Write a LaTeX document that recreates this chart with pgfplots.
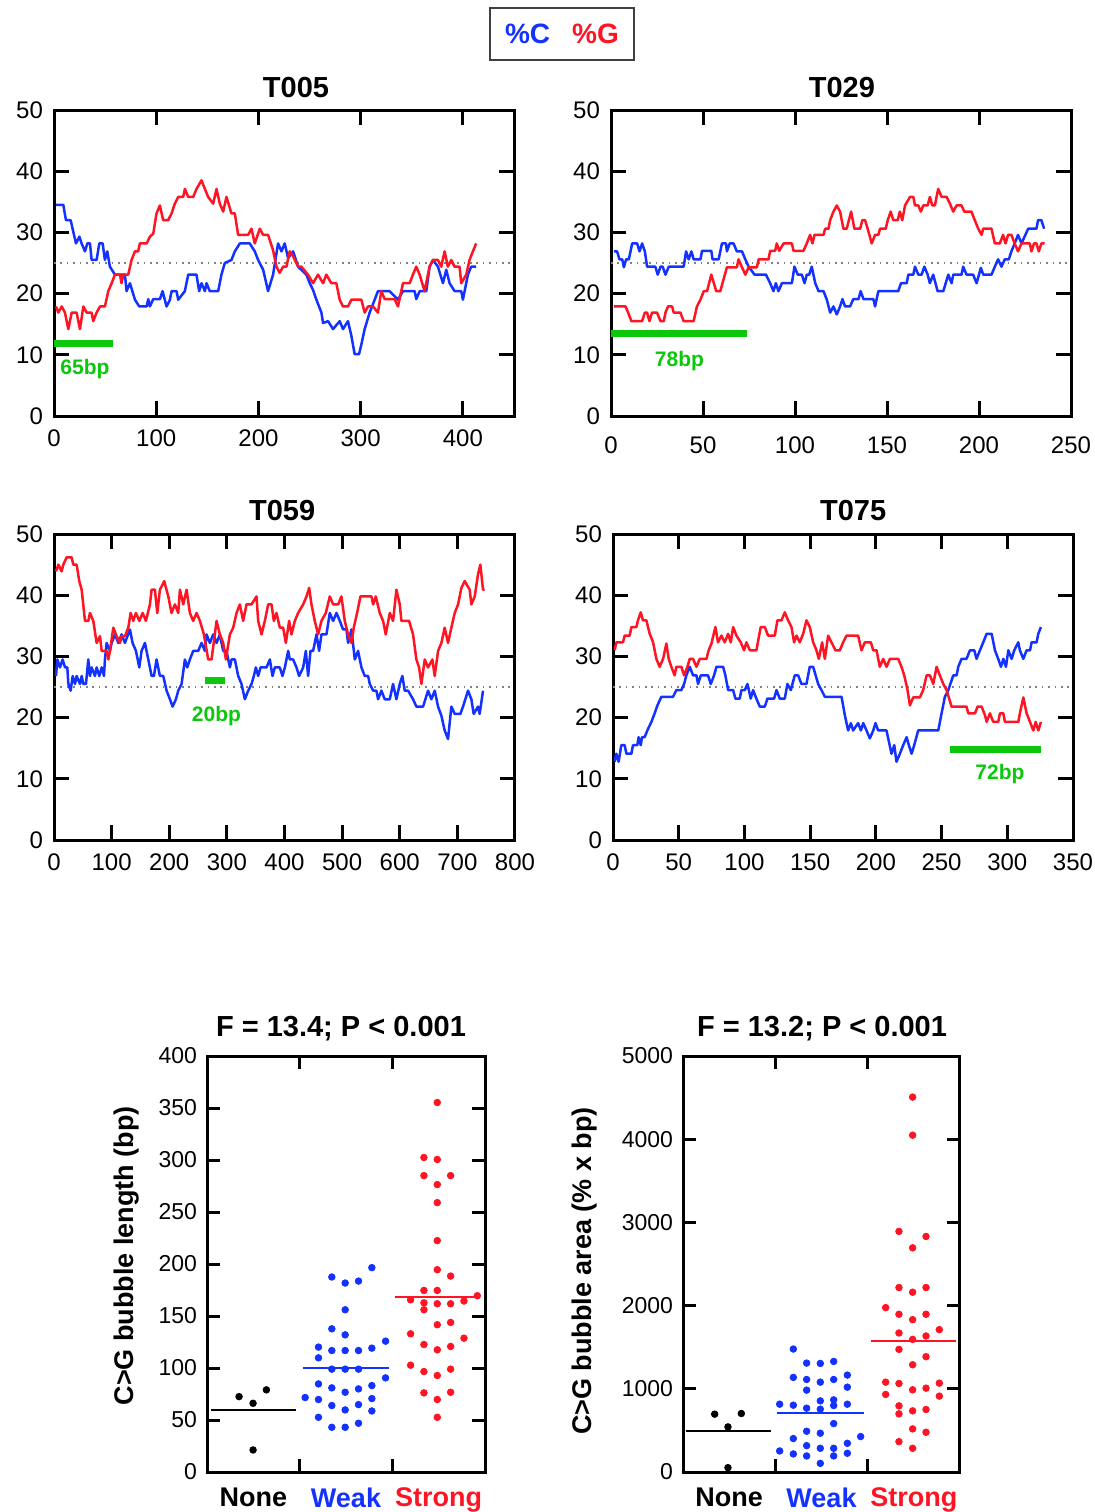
\documentclass[border=0pt]{standalone}
\usepackage{fontspec}
\setmainfont{Liberation Sans}
\usepackage{pgfplots}
\pgfplotsset{compat=1.18}
\definecolor{cblue}{RGB}{20,50,255}
\definecolor{cred}{RGB}{255,20,35}
\definecolor{cgreen}{RGB}{12,200,12}
\tikzset{glab/.style={text=cgreen, font=\bfseries\fontsize{10.5}{12}\selectfont}}
\pgfplotsset{
  every axis/.append style={
    scale only axis,
    axis line style={line width=1.5pt, line cap=rect},
    tick style={line width=1.5pt, black},
    tick align=inside,
    /pgf/number format/assume math mode=true,
    /pgf/number format/1000 sep={},
    scaled ticks=false,
  },
  top/.style={
    width=230pt, height=153pt,
    ymin=0, ymax=50, ytick={0,10,20,30,40,50}, xmin=0,
    major tick length=7.5pt,
    tick label style={font=\fontsize{12}{14}\selectfont},
    yticklabel style={xshift=-2pt},
    xticklabel style={yshift=-3.5pt},
    title style={font=\bfseries\fontsize{14.5}{17}\selectfont, anchor=base, yshift=0.5pt},
  },
  cline/.style={cblue, line width=1.25pt, line join=round, no marks},
  gline/.style={cred, line width=1.25pt, line join=round, no marks},
  dotl/.style={gray, line width=0.7pt, dash pattern=on 0.8pt off 2.4pt, no marks},
  gbar/.style={cgreen, line width=3.5pt, no marks},
  bot/.style={
    height=208pt, xmin=0, xmax=3, ymin=0,
    xtick={1,2}, xticklabels={},
    major tick length=6.5pt,
    extra x ticks={0.5,1.5,2.5},
    extra x tick labels={\textcolor{black}{None},\textcolor{cblue}{Weak},\textcolor{cred}{Strong}},
    extra x tick style={major tick length=0pt, tick label style={font=\bfseries\fontsize{13.5}{16}\selectfont, yshift=-4.2pt}},
    yticklabel style={font=\fontsize{11.5}{13}\selectfont, xshift=-1.5pt},
    title style={font=\bfseries\fontsize{14.5}{17}\selectfont, anchor=base, yshift=4pt},
    ylabel style={font=\bfseries\fontsize{13.5}{16}\selectfont, anchor=center},
  },
  dots/.style={only marks, mark=*, mark size=1.65pt},
  mline/.style={line width=1pt, no marks},
}
\begin{document}
\begin{tikzpicture}
\useasboundingbox (0,0) rectangle (547pt,-756pt);
\node[draw=black!75, line width=0.8pt, minimum width=72pt, minimum height=26pt, inner sep=0pt, font=\bfseries\fontsize{14}{16}\selectfont] at (281pt,-17pt) {\textcolor{cblue}{\%C}\hspace{11pt}\textcolor{cred}{\%G}};

% ---------------- T005
\begin{axis}[top, at={(27pt,-55pt)}, anchor=north west, xmax=450, xtick={0,100,200,300,400},
  title={T005}, title style={at={(axis description cs:0.526,1)}}]
\addplot[dotl] coordinates {(0,25) (450,25)};
\addplot[cline] coordinates {(2.0,34.5)(9.1,34.5)(11.7,32.0)(16.3,32.0)(18.2,30.6)(21.5,28.2)(24.8,29.3)(27.0,28.2)(30.3,26.9)(32.6,28.2)(35.2,28.2)(36.8,25.5)(41.7,25.5)(44.3,28.2)(47.6,28.2)(49.8,25.5)(52.1,26.9)(54.7,24.4)(59.6,23.1)(69.4,23.1)(71.0,20.4)(74.3,21.7)(79.2,19.0)(83.4,17.9)(90.6,17.9)(92.2,19.1)(93.8,17.9)(97.1,19.1)(103.6,19.1)(106.2,20.4)(110.1,17.9)(113.4,19.0)(115.0,20.4)(119.9,20.4)(121.5,19.0)(128.0,20.4)(131.3,23.1)(139.4,23.1)(142.0,20.4)(144.3,21.7)(147.6,20.4)(149.2,21.7)(152.4,20.4)(160.6,20.4)(163.8,23.1)(167.1,25.0)(173.6,25.5)(176.9,26.9)(181.8,28.2)(191.5,28.2)(196.4,26.9)(199.7,25.5)(204.6,23.9)(209.4,20.4)(214.3,23.1)(219.2,28.2)(222.5,26.9)(225.7,28.2)(229.0,25.8)(233.9,26.9)(238.8,24.4)(246.9,23.1)(250.2,21.7)(253.4,20.6)(256.7,19.0)(261.6,16.9)(263.2,15.2)(268.1,15.5)(273.0,14.2)(279.5,15.5)(282.7,14.2)(287.6,15.5)(290.9,13.1)(294.1,10.1)(298.4,10.1)(300.7,11.7)(303.9,14.2)(308.8,16.9)(313.7,19.0)(316.9,20.4)(321.8,20.4)(328.3,20.4)(336.5,19.0)(341.4,20.4)(352.8,20.4)(354.4,19.1)(357.7,20.4)(364.2,20.4)(367.4,24.4)(370.7,25.5)(375.6,24.4)(380.5,21.7)(383.7,23.9)(387.0,21.7)(391.9,20.4)(398.4,20.4)(400.0,19.0)(404.9,23.1)(408.1,24.4)(413.0,24.4)};
\addplot[gline] coordinates {(2.0,17.9)(4.2,16.9)(7.5,17.9)(10.7,16.9)(14.0,14.2)(17.3,16.9)(22.1,16.9)(25.4,14.2)(28.7,17.9)(31.9,16.9)(36.8,16.9)(38.4,15.5)(41.7,16.9)(45.0,17.9)(49.8,17.9)(53.1,20.4)(56.4,21.7)(59.6,23.1)(64.5,23.1)(66.1,21.7)(67.8,23.1)(72.6,23.1)(75.9,25.5)(79.2,26.9)(82.4,26.9)(84.0,28.2)(90.6,28.2)(93.8,29.3)(97.1,29.8)(100.3,33.1)(103.6,34.4)(106.8,32.0)(111.7,32.0)(115.0,33.1)(118.2,34.7)(121.5,35.8)(126.4,35.8)(128.0,37.1)(131.3,35.8)(136.2,35.8)(139.4,37.1)(144.3,38.5)(147.6,37.1)(150.8,35.8)(155.7,34.7)(159.0,37.1)(162.2,34.7)(165.5,33.4)(168.7,35.8)(173.6,33.1)(176.9,33.1)(180.1,29.6)(183.4,29.6)(189.9,29.6)(193.2,30.6)(196.4,28.2)(201.3,30.6)(204.6,29.6)(209.4,29.6)(214.3,27.1)(217.6,24.4)(220.8,23.4)(224.1,24.4)(227.4,24.4)(230.6,26.9)(233.9,26.1)(238.8,24.4)(242.0,24.4)(248.5,23.1)(253.4,21.7)(258.3,23.1)(263.2,21.7)(266.4,23.1)(271.3,21.7)(276.2,21.7)(279.5,19.0)(282.7,17.9)(287.6,17.9)(290.9,19.0)(300.7,19.0)(303.9,16.9)(307.2,17.9)(312.1,17.9)(316.9,16.9)(320.2,20.4)(323.5,19.1)(333.2,19.1)(336.5,17.9)(341.4,21.7)(347.9,21.7)(351.1,23.1)(354.4,24.4)(357.7,23.1)(362.5,20.4)(367.4,24.4)(370.7,25.5)(375.6,25.5)(378.8,24.4)(382.1,26.9)(385.3,24.4)(388.6,25.5)(391.9,24.4)(396.7,24.4)(398.4,21.7)(403.3,23.1)(406.5,25.5)(409.8,26.9)(413.0,28.2)};
\addplot[gbar] coordinates {(0,11.8) (58,11.8)};
\node[glab] at (axis cs:30.3,7.6) {65bp};
\end{axis}

% ---------------- T029
\begin{axis}[top, at={(305.5pt,-55pt)}, anchor=north west, xmax=250, xtick={0,50,100,150,200,250},
  xticklabel style={yshift=-3.5pt},
  title={T029}, title style={at={(axis description cs:0.502,1)}}]
\addplot[dotl] coordinates {(0,25) (250,25)};
\addplot[cline] coordinates {(1.5,26.9)(3.3,26.9)(4.6,25.6)(6.1,25.6)(7.0,24.3)(8.2,25.6)(9.7,25.6)(11.5,28.2)(14.2,28.2)(15.5,26.9)(16.9,28.2)(18.4,26.9)(19.6,24.4)(24.1,24.4)(25.4,23.1)(26.9,24.4)(28.1,24.4)(29.6,23.1)(31.4,24.4)(39.5,24.4)(40.8,26.9)(42.2,25.6)(43.7,26.9)(44.9,25.6)(48.6,25.6)(49.5,27.0)(54.5,27.0)(55.2,25.6)(58.5,25.6)(60.3,28.2)(62.5,28.2)(63.0,26.9)(64.5,28.2)(66.6,28.2)(68.4,26.9)(71.2,26.9)(73.0,25.6)(74.8,24.4)(78.0,23.1)(84.2,23.1)(86.5,21.7)(88.3,20.4)(89.6,21.7)(91.0,20.4)(92.9,21.7)(98.3,21.7)(99.7,24.4)(101.5,23.1)(103.7,23.1)(105.2,21.7)(106.4,23.1)(107.7,23.1)(109.1,24.4)(111.0,21.7)(112.8,20.4)(115.5,20.4)(117.3,19.0)(119.1,16.9)(120.9,17.9)(122.7,16.6)(124.5,17.9)(125.8,19.1)(127.2,17.9)(129.9,17.9)(131.7,19.1)(134.5,19.1)(135.7,20.4)(137.2,19.1)(142.6,19.1)(143.5,17.9)(145.3,20.4)(156.1,20.4)(157.6,21.7)(160.7,21.7)(161.6,23.1)(164.3,23.1)(165.2,24.4)(167.0,23.1)(168.8,23.1)(170.3,24.4)(172.1,23.1)(173.3,21.7)(175.1,23.1)(177.5,20.4)(180.6,20.4)(183.3,23.1)(185.1,21.7)(186.0,23.1)(190.5,23.1)(191.4,24.4)(193.2,23.1)(196.8,23.1)(198.7,21.7)(201.0,24.2)(202.3,23.1)(206.8,23.1)(208.6,24.4)(210.4,25.6)(212.2,24.4)(214.0,25.6)(216.2,25.6)(217.6,26.9)(219.4,28.2)(221.2,29.6)(223.1,28.2)(225.2,29.6)(226.7,30.6)(231.2,30.6)(232.1,32.0)(233.9,32.0)(235.4,30.6)};
\addplot[gline] coordinates {(1.5,17.9)(7.9,17.9)(9.3,16.9)(11.1,15.5)(16.9,15.5)(18.4,16.9)(19.6,16.9)(20.9,15.5)(22.3,16.9)(25.0,16.9)(26.9,15.5)(28.7,15.5)(29.6,16.9)(31.0,17.9)(33.2,17.9)(34.1,16.9)(37.7,16.9)(39.5,15.5)(44.9,15.5)(46.7,17.9)(48.6,19.0)(50.4,20.4)(52.2,20.4)(54.5,23.1)(57.2,20.4)(59.4,20.4)(63.0,24.3)(68.4,24.3)(69.3,25.6)(71.2,24.3)(73.0,23.1)(74.8,24.3)(79.3,24.3)(80.2,25.6)(85.6,25.6)(86.5,27.0)(89.2,27.0)(90.1,28.2)(91.4,27.0)(93.8,28.2)(98.3,28.2)(99.2,27.0)(104.6,27.0)(106.4,28.2)(108.2,29.6)(109.5,28.2)(110.6,29.6)(115.5,29.6)(116.4,30.6)(118.2,30.6)(119.1,32.0)(120.9,33.4)(122.7,34.4)(124.5,33.4)(126.3,30.6)(128.1,30.6)(130.5,33.4)(132.3,30.6)(135.4,30.6)(136.6,32.0)(138.1,32.0)(139.5,30.6)(141.7,28.2)(143.5,29.6)(145.3,29.6)(146.2,30.6)(149.3,30.6)(150.4,32.0)(152.0,33.4)(153.4,32.0)(155.8,32.0)(157.0,33.4)(158.3,32.0)(159.8,34.4)(162.5,35.8)(164.3,35.8)(165.2,34.4)(167.0,34.4)(168.4,33.4)(169.7,34.4)(172.1,34.4)(173.3,35.8)(174.6,34.4)(176.0,34.4)(177.8,37.1)(179.7,35.8)(182.4,35.8)(184.2,34.7)(186.0,33.4)(187.8,34.4)(190.5,34.4)(192.0,33.4)(195.9,33.4)(197.7,32.0)(199.6,30.6)(201.4,29.6)(202.3,30.6)(206.8,30.6)(208.6,28.2)(211.3,28.2)(213.1,29.6)(214.4,28.2)(215.8,29.6)(217.6,29.6)(219.4,28.2)(221.2,26.9)(223.1,28.2)(227.6,28.2)(228.5,26.9)(229.9,28.2)(231.2,28.2)(232.5,26.9)(233.9,28.2)(235.7,28.2)};
\addplot[gbar] coordinates {(0,13.5) (73.7,13.5)};
\node[glab] at (axis cs:37.2,9.0) {78bp};
\end{axis}

% ---------------- T059
\begin{axis}[top, at={(27pt,-267pt)}, anchor=north west, width=230.5pt, height=153pt, xmax=800, xtick={0,100,...,800},
  title={T059}, title style={at={(axis description cs:0.495,1)}, yshift=0.5pt}]
\addplot[dotl] coordinates {(0,25) (800,25)};
\addplot[cline] coordinates {(3.5,26.8)(5.8,29.5)(10.4,28.2)(15.0,29.5)(19.1,28.2)(23.1,28.2)(24.9,25.5)(28.9,24.4)(32.4,26.8)(36.4,25.5)(39.3,26.8)(45.1,25.5)(48.0,26.8)(50.9,25.5)(55.5,25.5)(59.5,29.5)(62.4,26.8)(65.3,28.2)(71.1,26.8)(74.0,28.2)(78.6,26.8)(82.7,28.2)(86.7,26.8)(88.4,29.5)(91.3,32.2)(97.1,30.9)(100.0,32.2)(105.8,33.6)(111.6,32.2)(117.3,33.6)(123.1,32.2)(131.8,34.4)(136.4,32.2)(142.2,30.9)(148.0,28.2)(152.0,30.9)(157.8,32.2)(163.6,29.5)(169.4,26.8)(173.4,26.8)(178.0,29.5)(183.8,26.8)(189.6,26.8)(195.4,24.4)(201.2,23.0)(205.8,21.8)(211.6,23.0)(215.6,24.4)(221.4,25.5)(227.2,29.5)(231.2,28.2)(235.8,29.5)(241.6,30.9)(250.3,30.9)(256.1,32.2)(261.8,30.9)(264.7,33.6)(270.5,32.2)(276.3,33.6)(282.1,32.2)(287.9,33.6)(293.6,30.9)(299.4,30.9)(305.2,28.2)(308.1,29.5)(313.9,29.5)(319.7,26.8)(325.4,25.5)(331.2,23.0)(337.0,24.4)(342.8,25.5)(346.8,26.8)(350.3,28.2)(354.3,26.8)(358.4,28.2)(368.8,28.2)(374.6,29.5)(379.2,26.8)(383.2,28.2)(391.9,28.2)(396.5,26.8)(400.6,28.2)(406.4,30.9)(409.2,29.5)(415.0,29.5)(420.8,28.2)(425.4,26.8)(432.4,28.2)(437.0,30.9)(441.0,26.8)(445.1,30.9)(449.7,30.9)(455.5,33.6)(460.1,30.9)(464.2,33.6)(472.8,33.6)(478.6,37.1)(484.4,35.8)(490.2,37.1)(496.0,35.8)(501.7,34.4)(507.5,34.4)(510.4,32.2)(516.2,34.4)(522.0,29.5)(527.7,30.9)(533.5,28.2)(539.3,26.8)(545.1,26.8)(548.0,25.5)(553.8,24.4)(559.5,24.4)(562.4,23.0)(568.2,24.4)(574.0,23.0)(582.7,23.0)(588.4,25.5)(594.2,23.0)(600.0,25.5)(604.6,26.8)(608.7,24.4)(614.5,24.4)(623.1,23.0)(628.9,21.8)(640.5,21.8)(649.1,24.4)(654.9,23.0)(660.7,24.4)(666.5,21.8)(672.3,20.3)(678.0,17.9)(683.8,16.5)(689.6,21.8)(695.4,20.6)(705.2,20.6)(709.8,21.8)(718.5,24.4)(724.3,23.0)(728.3,20.6)(735.8,21.8)(738.7,20.6)(744.5,24.4)};
\addplot[gline] coordinates {(3.5,43.9)(7.5,45.0)(13.3,43.9)(16.2,45.0)(22.0,46.2)(30.6,46.2)(33.5,45.0)(39.3,45.0)(43.9,42.3)(48.0,40.9)(53.8,35.8)(59.5,35.8)(62.4,37.1)(68.2,35.8)(74.0,32.2)(79.8,33.3)(82.7,30.9)(91.3,30.9)(94.2,29.5)(97.1,30.9)(102.9,34.7)(108.7,33.3)(114.5,32.2)(117.3,33.3)(123.1,33.3)(128.9,34.7)(133.0,37.1)(137.6,35.8)(142.2,37.1)(148.0,35.8)(153.8,37.1)(159.5,35.8)(166.5,38.5)(169.4,40.9)(175.1,40.9)(179.2,37.1)(183.8,40.9)(191.3,42.3)(198.3,39.8)(204.0,37.1)(209.8,38.5)(215.6,37.1)(218.5,40.9)(224.3,38.5)(230.1,40.9)(235.8,37.1)(241.6,35.8)(247.4,37.1)(253.2,35.8)(260.1,33.6)(267.6,29.5)(273.4,29.5)(282.1,35.8)(287.9,33.6)(293.6,32.2)(298.3,29.5)(305.2,33.6)(311.0,34.7)(316.8,37.1)(322.5,38.5)(328.3,35.8)(334.1,38.5)(342.8,38.5)(351.4,39.8)(354.3,35.8)(360.1,33.6)(365.9,35.8)(371.7,38.5)(377.5,38.5)(381.5,35.8)(386.1,37.1)(391.9,34.7)(397.7,34.7)(402.3,32.2)(408.1,35.8)(412.1,33.6)(417.9,35.8)(423.7,37.1)(432.4,38.5)(438.2,39.8)(442.8,41.2)(446.8,38.5)(452.6,35.8)(458.4,33.6)(464.2,35.8)(471.7,37.1)(478.6,39.8)(484.4,38.5)(493.1,38.5)(498.8,39.8)(504.6,35.8)(510.4,33.6)(516.2,32.2)(520.2,34.7)(526.0,37.1)(531.8,39.8)(550.9,39.8)(553.8,38.5)(558.4,39.8)(565.3,37.1)(571.1,35.8)(575.7,33.6)(582.7,37.1)(588.4,35.8)(594.2,40.9)(600.0,38.5)(602.9,35.8)(616.2,35.8)(623.1,33.6)(628.9,29.5)(633.5,28.2)(637.6,25.5)(643.4,29.5)(649.1,28.2)(656.6,29.5)(660.7,26.8)(666.5,30.9)(672.3,32.2)(678.0,34.7)(683.8,32.2)(689.6,34.7)(695.4,37.1)(701.2,38.5)(707.0,41.2)(712.7,42.3)(721.4,40.9)(724.3,38.5)(730.1,39.8)(735.8,43.4)(739.9,45.0)(744.5,40.9)(747.4,40.9)};
\addplot[gbar] coordinates {(262,26.1) (296,26.1)};
\node[glab] at (axis cs:282,20.2) {20bp};
\end{axis}

% ---------------- T075
\begin{axis}[top, at={(306.5pt,-267pt)}, anchor=north west, height=153pt, xmax=350, xtick={0,50,...,350},
  title={T075}, title style={at={(axis description cs:0.522,1)}, yshift=0.5pt}]
\addplot[dotl] coordinates {(0,25) (350,25)};
\addplot[cline] coordinates {(1.3,12.8)(2.5,14.1)(4.3,12.8)(6.3,15.5)(8.9,15.5)(10.2,14.1)(14.0,14.1)(15.2,15.5)(18.5,15.5)(19.5,16.8)(21.1,15.5)(22.1,16.8)(24.1,16.8)(26.1,17.9)(29.2,19.3)(31.7,20.7)(33.8,22.0)(36.8,23.4)(45.7,23.4)(48.2,24.5)(52.0,24.5)(54.1,25.5)(55.8,26.9)(58.4,28.3)(60.9,26.9)(63.5,26.9)(64.7,25.5)(66.8,26.9)(72.3,26.9)(74.4,25.5)(76.9,26.9)(78.7,28.3)(83.8,28.3)(85.5,26.9)(87.6,24.5)(91.4,24.5)(93.1,23.1)(96.4,23.1)(97.7,24.5)(100.3,24.5)(102.3,25.5)(104.8,23.1)(106.6,24.5)(109.1,23.1)(111.7,21.8)(115.5,21.8)(117.5,23.1)(122.6,23.1)(124.4,24.5)(126.9,23.1)(130.7,23.1)(132.7,25.5)(135.3,24.5)(138.3,26.9)(140.9,26.9)(143.4,25.5)(147.2,25.5)(149.7,28.3)(152.3,28.3)(156.1,25.5)(158.6,24.5)(161.2,23.4)(173.9,23.4)(176.4,20.4)(178.9,17.9)(181.0,19.1)(182.7,17.9)(186.5,19.1)(188.6,17.9)(190.4,19.1)(192.9,17.9)(195.4,16.6)(198.0,17.9)(199.7,19.1)(201.8,17.9)(208.1,17.9)(209.4,16.6)(211.9,14.1)(214.0,15.5)(215.7,12.8)(218.3,14.1)(220.8,15.5)(223.4,16.8)(225.1,15.5)(227.2,14.1)(229.2,15.5)(232.2,17.9)(247.5,17.9)(250.0,20.7)(252.5,23.4)(255.1,24.5)(258.9,26.9)(261.4,26.9)(262.7,28.3)(265.2,29.6)(269.0,29.6)(271.6,31.0)(274.9,31.0)(276.6,29.6)(279.2,31.0)(281.7,32.3)(284.3,33.7)(288.1,33.7)(290.6,31.0)(293.1,29.6)(295.2,28.3)(297.0,29.6)(299.0,28.3)(300.8,31.0)(303.3,29.6)(305.3,31.0)(308.4,32.3)(309.6,31.0)(312.2,29.6)(314.7,31.0)(317.3,31.0)(318.5,32.3)(322.3,32.3)(323.6,33.7)(325.6,34.8)};
\addplot[gline] coordinates {(1.3,31.0)(2.5,32.3)(7.6,32.3)(8.9,33.4)(12.7,33.4)(14.0,34.8)(17.8,34.8)(19.0,35.9)(21.1,37.2)(22.8,35.9)(25.4,35.9)(27.9,33.7)(30.5,32.3)(33.0,29.6)(35.5,28.3)(38.1,29.6)(40.6,32.1)(42.4,29.6)(44.4,28.3)(46.9,26.9)(48.2,28.3)(52.0,28.3)(54.1,26.9)(56.6,28.3)(58.4,29.6)(60.9,29.6)(63.5,28.3)(66.0,29.6)(71.1,29.6)(72.8,31.0)(74.9,32.1)(77.9,34.8)(79.9,32.3)(82.5,33.4)(85.0,32.3)(87.6,33.7)(89.6,32.3)(91.4,34.8)(93.9,33.4)(97.2,32.3)(99.7,31.0)(101.5,32.3)(104.1,31.0)(109.1,31.0)(112.4,34.8)(115.5,34.8)(118.0,33.4)(123.1,33.4)(125.1,35.9)(128.2,35.9)(130.7,37.2)(133.2,35.9)(135.8,34.8)(137.8,32.3)(139.6,33.4)(142.1,32.3)(144.7,33.7)(147.2,35.9)(149.7,34.8)(152.3,32.3)(154.8,31.0)(156.6,29.6)(159.1,32.3)(161.2,29.6)(163.7,33.4)(166.2,32.3)(169.3,31.0)(172.6,31.0)(175.1,32.3)(177.7,33.4)(186.5,33.4)(189.1,31.0)(191.6,32.3)(196.2,32.3)(198.0,31.0)(200.5,31.0)(203.0,28.3)(205.6,29.6)(208.1,28.3)(210.7,29.6)(217.0,29.6)(219.5,28.3)(221.6,26.9)(224.1,24.5)(225.9,22.0)(228.4,23.3)(233.5,23.3)(236.0,24.5)(238.6,26.9)(241.1,26.9)(243.7,25.5)(246.2,28.3)(248.7,26.9)(251.3,25.5)(253.8,24.5)(257.6,21.8)(269.0,21.8)(270.3,20.7)(275.4,20.7)(277.4,21.8)(280.5,21.8)(283.0,20.4)(284.3,19.3)(286.8,20.7)(289.3,19.3)(293.1,19.3)(294.4,20.7)(297.0,20.7)(298.2,19.3)(308.4,19.3)(309.6,20.7)(312.2,23.3)(314.7,20.7)(317.3,19.3)(319.8,17.9)(321.6,19.3)(323.6,17.9)(325.6,19.3)};
\addplot[gbar] coordinates {(256.3,14.8) (325.4,14.8)};
\node[glab] at (axis cs:294.4,10.8) {72bp};
\end{axis}

% ---------------- bubble length
\begin{axis}[bot, at={(103.5pt,-528pt)}, anchor=north west, width=139pt, ymax=400, ytick={0,50,...,400},
  title={F = 13.4; P < 0.001}, title style={at={(axis description cs:0.482,1)}},
  ylabel={C>G bubble length (bp)}, ylabel style={at={(axis description cs:-0.288,0.52)}}]
\addplot[dots, black] coordinates {(0.346,72.5)(0.497,66.1)(0.641,79.0)(0.497,21.2)};
\addplot[mline, black] coordinates {(0.047,59.4)(0.965,59.4)};
\addplot[dots, cblue] coordinates {(1.347,187.5)(1.491,181.7)(1.635,183.6)(1.779,196.5)(1.491,156.0)(1.347,137.7)(1.491,131.9)(1.203,120.1)(1.347,116.8)(1.491,116.8)(1.635,116.8)(1.779,119.1)(1.927,125.8)(1.203,109.8)(1.347,98.9)(1.491,98.9)(1.635,98.9)(1.203,84.7)(1.347,80.9)(1.491,76.7)(1.635,79.9)(1.779,83.1)(1.927,90.5)(1.059,71.6)(1.203,69.7)(1.347,63.9)(1.491,59.7)(1.635,64.8)(1.779,70.6)(1.779,58.7)(1.203,52.6)(1.347,43.0)(1.491,43.0)(1.635,46.9)};
\addplot[mline, cblue] coordinates {(1.037,99.8)(1.959,99.8)};
\addplot[dots, cred] coordinates {(2.485,355.3)(2.341,302.4)(2.485,300.5)(2.341,285.0)(2.629,285.0)(2.485,276.4)(2.485,259.0)(2.485,222.5)(2.485,194.5)(2.629,188.4)(2.341,174.6)(2.485,174.6)(2.917,169.5)(2.197,165.6)(2.341,162.7)(2.485,161.8)(2.629,161.8)(2.773,164.4)(2.341,156.0)(2.485,141.6)(2.629,143.8)(2.197,132.9)(2.773,128.7)(2.341,122.6)(2.485,117.5)(2.629,120.7)(2.197,102.7)(2.341,96.6)(2.485,92.8)(2.629,98.9)(2.341,76.1)(2.485,69.7)(2.629,76.7)(2.485,52.6)};
\addplot[mline, cred] coordinates {(2.028,168.2)(2.928,168.2)};
\end{axis}

% ---------------- bubble area
\begin{axis}[bot, at={(341.5pt,-528pt)}, anchor=north west, width=138.5pt, ymax=5000, ytick={0,1000,...,5000},
  title={F = 13.2; P < 0.001}, title style={at={(axis description cs:0.502,1)}},
  ylabel={C>G bubble area (\% x bp)}, ylabel style={at={(axis description cs:-0.354,0.483)}}]
\addplot[dots, black] coordinates {(0.343,695)(0.632,703)(0.487,542)(0.487,52)};
\addplot[mline, black] coordinates {(0.029,494)(0.957,494)};
\addplot[dots, cblue] coordinates {(1.195,1478)(1.339,1309)(1.487,1305)(1.632,1329)(1.195,1137)(1.339,1112)(1.487,1080)(1.632,1112)(1.780,1165)(1.339,984)(1.780,1020)(1.047,815)(1.195,803)(1.339,767)(1.487,855)(1.487,755)(1.632,867)(1.632,799)(1.780,815)(1.632,582)(1.339,490)(1.487,466)(1.195,402)(1.924,426)(1.339,317)(1.487,285)(1.632,285)(1.780,345)(1.047,253)(1.195,217)(1.339,193)(1.632,193)(1.780,225)(1.487,104)};
\addplot[mline, cblue] coordinates {(1.022,711)(1.957,711)};
\addplot[dots, cred] coordinates {(2.487,4506)(2.487,4048)(2.339,2892)(2.632,2831)(2.487,2695)(2.339,2217)(2.632,2217)(2.487,2161)(2.195,1976)(2.339,1896)(2.487,1831)(2.632,1896)(2.776,1711)(2.339,1671)(2.487,1594)(2.632,1635)(2.339,1474)(2.632,1386)(2.487,1289)(2.195,1080)(2.339,1064)(2.487,988)(2.632,1008)(2.776,1068)(2.195,932)(2.776,912)(2.339,795)(2.487,735)(2.632,751)(2.339,699)(2.487,518)(2.632,478)(2.339,365)(2.487,285)};
\addplot[mline, cred] coordinates {(2.032,1570)(2.960,1570)};
\end{axis}
\end{tikzpicture}
\end{document}
